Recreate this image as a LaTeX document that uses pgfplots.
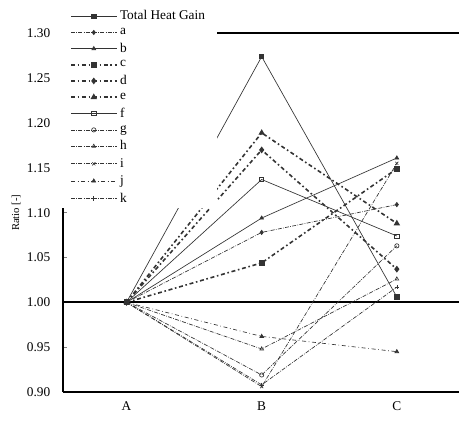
\documentclass[border=0pt]{standalone}
\usepackage{fontspec}
\setmainfont{Liberation Serif}
\usepackage{pgfplots}
\pgfplotsset{compat=1.18}
\begin{document}
\begin{tikzpicture}
\begin{axis}[
  scale only axis, width=297pt, height=269pt,
  xmin=-0.47, xmax=2.46, ymin=0.90, ymax=1.30,
  xtick={0,1,2}, xticklabels={A,B,C},
  x tick style={draw=none},
  ytick={0.90,0.95,...,1.31},
  yticklabel style={/pgf/number format/fixed,/pgf/number format/fixed zerofill,/pgf/number format/precision=2, xshift=-6pt},
  /pgf/number format/assume math mode=true,
  axis x line*=box, axis y line*=left,
  axis line style={line width=1.3pt},
  y tick style={line width=0.5pt}, major tick length=3pt,
  ylabel={\footnotesize Ratio [-]},
  ylabel style={yshift=-2pt},
  xticklabel style={yshift=-4pt},
  legend style={at={(-0.006,1.075)}, anchor=north west, draw=none, fill=white, font=\normalsize, row sep=0.8pt, inner xsep=7pt, inner ysep=1pt},
  legend cell align=left,
  legend image code/.code={\draw[mark repeat=2,mark phase=2,#1] plot coordinates {(0cm,0cm) (0.6cm,0cm) (1.2cm,0cm)};},
  every axis plot/.append style={black!80, mark size=1.6pt},
  clip=true,
]
\addplot[forget plot, black, line width=1.3pt] coordinates {(-1,1.00) (3,1.00)};
\addplot[line width=0.5pt, mark=square*] coordinates {(0,1.000) (1,1.274) (2,1.006)};
\addlegendentry{Total Heat Gain}
\addplot[line width=0.5pt, densely dashdotted, mark=diamond*, mark options={solid}] coordinates {(0,1.000) (1,1.078) (2,1.109)};
\addlegendentry{a}
\addplot[line width=0.5pt, mark=triangle*] coordinates {(0,1.000) (1,1.094) (2,1.161)};
\addlegendentry{b}
\addplot[line width=1.2pt, dashdotted, mark=square*, mark options={solid}] coordinates {(0,1.000) (1,1.044) (2,1.149)};
\addlegendentry{c}
\addplot[line width=1.2pt, dashdotted, mark=diamond*, mark options={solid}] coordinates {(0,1.000) (1,1.170) (2,1.037)};
\addlegendentry{d}
\addplot[line width=1.2pt, dashdotted, mark=triangle*, mark options={solid}] coordinates {(0,1.000) (1,1.189) (2,1.088)};
\addlegendentry{e}
\addplot[line width=0.5pt, mark=square, mark options={solid}] coordinates {(0,1.000) (1,1.137) (2,1.074)};
\addlegendentry{f}
\addplot[line width=0.5pt, densely dashdotted, mark=o, mark options={solid}] coordinates {(0,1.000) (1,0.919) (2,1.063)};
\addlegendentry{g}
\addplot[line width=0.5pt, densely dashdotted, mark=triangle, mark options={solid}] coordinates {(0,1.000) (1,0.948) (2,1.026)};
\addlegendentry{h}
\addplot[line width=0.5pt, densely dashdotted, mark=x, mark options={solid}] coordinates {(0,1.000) (1,0.906) (2,1.155)};
\addlegendentry{i}
\addplot[line width=0.5pt, dashdotted, mark=triangle*, mark options={solid}] coordinates {(0,1.000) (1,0.962) (2,0.945)};
\addlegendentry{j}
\addplot[line width=0.5pt, densely dashdotted, mark=+, mark options={solid}] coordinates {(0,1.000) (1,0.908) (2,1.017)};
\addlegendentry{k}
\coordinate (O) at (rel axis cs:0,0);
\end{axis}
\pgfresetboundingbox
\path (O) ++(-47.25pt,-22.5pt) rectangle ++(344.25pt,316.5pt);
\end{tikzpicture}
\end{document}
